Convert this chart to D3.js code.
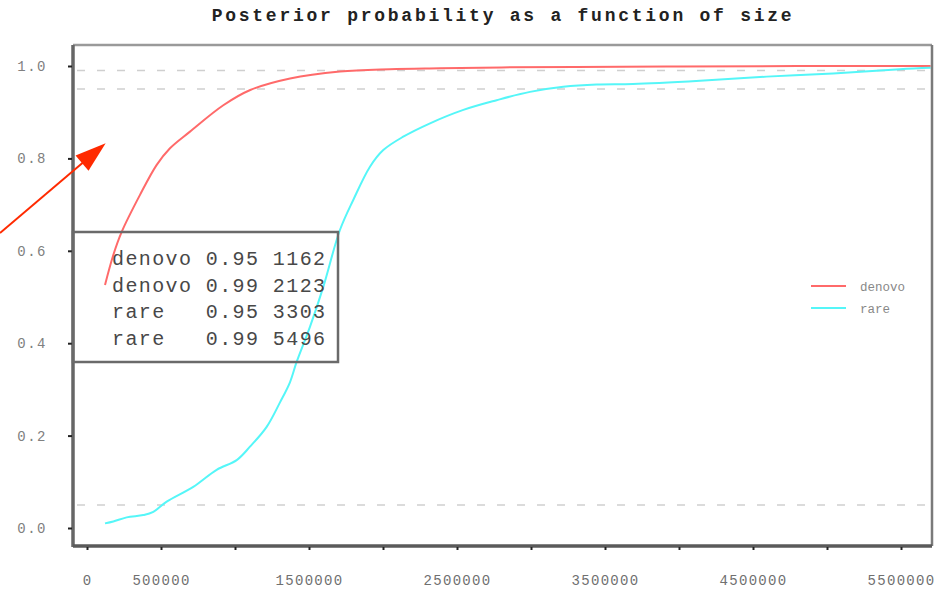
<!DOCTYPE html>
<html>
<head>
<meta charset="utf-8">
<script src="https://cdn.jsdelivr.net/npm/d3@7"></script>
<style>
  html, body { margin: 0; padding: 0; background: #ffffff; }
  svg { display: block; }
  text { font-family: "Liberation Mono", "DejaVu Sans Mono", monospace; }
</style>
</head>
<body>
<svg id="chart" width="947" height="592"></svg>
<script>
// ---------------- data ----------------
const title = "Posterior probability as a function of size";
const seriesNames = ["denovo", "rare"];
const seriesColors = ["#ff6a6a", "#55f6f8"];

const denovoSize = [121600, 177700, 234500, 358100, 471000, 560800, 695900, 921000, 1103000, 1372000, 1709000, 2047000, 2385000, 2800000, 3300000, 4000000, 4800000, 5700000];
const denovoProb = [0.526, 0.591, 0.641, 0.721, 0.786, 0.822, 0.858, 0.915, 0.948, 0.973, 0.988, 0.993, 0.995, 0.997, 0.998, 0.999, 1.0, 1.0];

const rareSize = [121600, 177700, 268000, 380000, 448000, 538500, 718000, 876000, 1011500, 1101000, 1214000, 1304000, 1372000, 1417000, 1507000, 1596600, 1709000, 1799000, 1912000, 2002000, 2137000, 2318000, 2543000, 2768000, 2993000, 3218000, 3444000, 3689000, 4142000, 4592000, 5041000, 5493000, 5700000];
const rareProb = [0.010, 0.014, 0.023, 0.028, 0.035, 0.057, 0.089, 0.126, 0.147, 0.176, 0.219, 0.272, 0.316, 0.360, 0.436, 0.522, 0.645, 0.710, 0.782, 0.818, 0.847, 0.876, 0.905, 0.926, 0.944, 0.955, 0.960, 0.961, 0.968, 0.977, 0.984, 0.993, 0.996];

const thresholds = [0.99, 0.95, 0.05];

const yTicks = [0, 0.2, 0.4, 0.6, 0.8, 1.0];
const xTicks = [0, 500000, 1000000, 1500000, 2000000, 2500000, 3000000, 3500000, 4000000, 4500000, 5000000, 5500000];
const xTickLabels = ["0", "500000", "", "1500000", "", "2500000", "", "3500000", "", "4500000", "", "5500000"];

const insetNames = ["denovo", "denovo", "rare", "rare"];
const insetLevels = ["0.95", "0.99", "0.95", "0.99"];
const insetSizes = ["1162", "2123", "3303", "5496"];

// ---------------- layout ----------------
const frame = { left: 73, right: 932, top: 45, bottom: 546 };
const x = d3.scaleLinear().domain([0, 5500000]).range([87, 901]);
const y = d3.scaleLinear().domain([0, 1]).range([528, 66]);

const svg = d3.select("#chart");

// title
svg.append("text")
  .attr("x", 503).attr("y", 21)
  .attr("text-anchor", "middle")
  .attr("font-size", 18).attr("font-weight", "bold")
  .attr("letter-spacing", 2.75)
  .attr("fill", "#222")
  .text(title);

// threshold dashed lines
svg.append("g").selectAll("line").data(thresholds).join("line")
  .attr("x1", frame.left + 4).attr("x2", frame.right - 4)
  .attr("y1", d => y(d)).attr("y2", d => y(d))
  .attr("stroke", "#cfcfcf").attr("stroke-width", 1.5)
  .attr("stroke-dasharray", "8,12");

// series lines
const line = d3.line().x(d => x(d[0])).y(d => y(d[1])).curve(d3.curveCatmullRom.alpha(0.5));
const seriesData = [
  d3.zip(denovoSize, denovoProb),
  d3.zip(rareSize, rareProb)
];
svg.append("g").selectAll("path").data(seriesData).join("path")
  .attr("d", line)
  .attr("fill", "none")
  .attr("stroke", (d, i) => seriesColors[i])
  .attr("stroke-width", 2)
  .attr("stroke-linejoin", "round");

// frame
const fr = svg.append("g");
fr.append("line").attr("x1", frame.left).attr("x2", frame.right).attr("y1", frame.top).attr("y2", frame.top)
  .attr("stroke", "#9a9a9a").attr("stroke-width", 2.5);
fr.append("line").attr("x1", frame.right).attr("x2", frame.right).attr("y1", frame.top).attr("y2", frame.bottom)
  .attr("stroke", "#7a7a7a").attr("stroke-width", 2.5);
fr.append("line").attr("x1", frame.left).attr("x2", frame.left).attr("y1", frame.top).attr("y2", frame.bottom + 1)
  .attr("stroke", "#666").attr("stroke-width", 3.5);
fr.append("line").attr("x1", frame.left).attr("x2", frame.right).attr("y1", frame.bottom).attr("y2", frame.bottom)
  .attr("stroke", "#5a5a5a").attr("stroke-width", 3.5);

// y axis
const yAxis = svg.append("g")
  .attr("transform", `translate(${frame.left - 1},0)`)
  .call(d3.axisLeft(y).tickValues(yTicks).tickFormat(d3.format(".1f")).tickSize(4).tickPadding(21));
yAxis.select(".domain").remove();
yAxis.selectAll(".tick line").attr("stroke", "#222").attr("stroke-width", 2);
yAxis.selectAll(".tick text")
  .attr("font-family", "Liberation Mono, monospace")
  .attr("font-size", 14).attr("letter-spacing", 1.5)
  .attr("fill", "#808080");

// x axis
const xAxis = svg.append("g")
  .attr("transform", `translate(0,${frame.bottom + 1})`)
  .call(d3.axisBottom(x).tickValues(xTicks).tickFormat((d, i) => xTickLabels[i]).tickSize(3).tickPadding(25));
xAxis.select(".domain").remove();
xAxis.selectAll(".tick line").attr("stroke", "#222").attr("stroke-width", 2);
xAxis.selectAll(".tick text")
  .attr("font-family", "Liberation Mono, monospace")
  .attr("font-size", 14).attr("letter-spacing", 1.3)
  .attr("fill", "#707070");

// inset table box
const inset = svg.append("g");
inset.append("rect")
  .attr("x", frame.left).attr("y", 232).attr("width", 338 - frame.left).attr("height", 130)
  .attr("fill", "none").attr("stroke", "#6a6a6a").attr("stroke-width", 2.5);
inset.selectAll("text").data(insetNames).join("text")
  .attr("x", 112).attr("y", (d, i) => 265 + i * 26.7)
  .attr("font-size", 20).attr("letter-spacing", 1.4)
  .attr("fill", "#484848")
  .attr("xml:space", "preserve")
  .style("white-space", "pre")
  .text((d, i) => d.padEnd(7, " ") + insetLevels[i] + " " + insetSizes[i]);

// legend
const legend = svg.append("g");
seriesNames.forEach((name, i) => {
  legend.append("line")
    .attr("x1", 811).attr("x2", 846)
    .attr("y1", 286 + i * 22).attr("y2", 286 + i * 22)
    .attr("stroke", seriesColors[i]).attr("stroke-width", 2);
  legend.append("text")
    .attr("x", 860).attr("y", 291 + i * 22)
    .attr("font-size", 12.5).attr("letter-spacing", 0)
    .attr("fill", "#888")
    .text(name);
});

// red annotation arrow (positioned in data space)
const arrowTail = [x.invert(0), y.invert(233)];
const arrowTip = [126000, 0.833];
const tx = x(arrowTip[0]), ty = y(arrowTip[1]);
const sx = x(arrowTail[0]), sy = y(arrowTail[1]);
const ang = Math.atan2(ty - sy, tx - sx);
const headLen = 31, headHalf = 10;
const bx = tx - headLen * Math.cos(ang), by = ty - headLen * Math.sin(ang);
svg.append("line")
  .attr("x1", sx).attr("y1", sy).attr("x2", bx + 4 * Math.cos(ang)).attr("y2", by + 4 * Math.sin(ang))
  .attr("stroke", "#ff2a00").attr("stroke-width", 2);
svg.append("path")
  .attr("d", d3.line()([
    [tx, ty],
    [bx + headHalf * Math.sin(ang), by - headHalf * Math.cos(ang)],
    [bx - headHalf * Math.sin(ang), by + headHalf * Math.cos(ang)]
  ]) + "Z")
  .attr("fill", "#ff2a00");
</script>
</body>
</html>
